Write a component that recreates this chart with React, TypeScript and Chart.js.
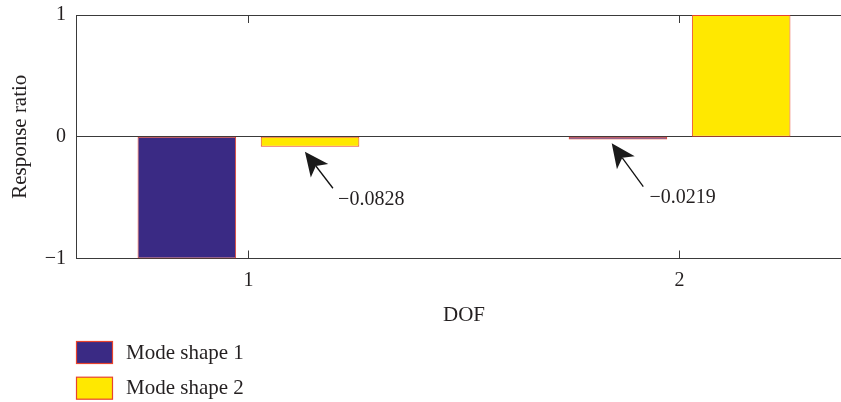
import React, { useEffect, useRef } from "react";
import { Chart, registerables } from "chart.js";

Chart.register(...registerables);

// ---- data ----
const dofValues = [1, 2];
const xTickLabels = ["1", "2"];
const seriesLabels = ["Mode shape 1", "Mode shape 2"];
const mode1Values = [-1, -0.0219];
const mode2Values = [-0.0828, 1];
const yTickValues = [-1, 0, 1];
const yTickLabels = ["−1", "0", "1"];
const calloutValues = [-0.0828, -0.0219];

// ---- style ----
const FONT_FAMILY = "'Liberation Serif', 'Times New Roman', serif";
const TEXT_COLOR = "#231f20";
const AXIS_COLOR = "#3a3a3a";
const COLOR_1 = "#3a2a84";
const COLOR_2 = "#ffe800";
const BORDER_RED = "#e8432d";
const NUM_SIZE = 20;
const WORD_SIZE = 21;

// callout geometry (data coordinates)
const calloutGeom = [
  { tip: [1.131, -0.123], tail: [1.196, -0.423], label: [1.208, -0.52] },
  { tip: [1.8426, -0.054], tail: [1.9159, -0.41], label: [1.93, -0.497] },
];

const fmt = (v: number) => (v < 0 ? "−" : "") + Math.abs(v).toFixed(4);

const framePlugin = {
  id: "frame",
  beforeDatasetsDraw(chart: any) {
    const { ctx, chartArea: a, scales } = chart;
    const x = scales.x;
    const y = scales.y;
    const px = (v: number) => Math.floor(v) + 0.5;
    ctx.save();
    ctx.strokeStyle = AXIS_COLOR;
    ctx.lineWidth = 1;
    ctx.beginPath();
    const top = px(a.top);
    const bottom = px(a.bottom);
    const left = px(a.left);
    const zero = px(y.getPixelForValue(0));
    ctx.moveTo(a.left, top);
    ctx.lineTo(a.right, top);
    ctx.moveTo(a.left, bottom);
    ctx.lineTo(a.right, bottom);
    ctx.moveTo(left, a.top);
    ctx.lineTo(left, a.bottom);
    ctx.moveTo(a.left, zero);
    ctx.lineTo(a.right, zero);
    yTickValues.forEach((v) => {
      const yy = px(y.getPixelForValue(v));
      ctx.moveTo(a.left, yy);
      ctx.lineTo(a.left + 9, yy);
    });
    dofValues.forEach((v) => {
      const xx = px(x.getPixelForValue(v));
      ctx.moveTo(xx, a.top);
      ctx.lineTo(xx, a.top + 8);
      ctx.moveTo(xx, a.bottom);
      ctx.lineTo(xx, a.bottom - 8);
    });
    ctx.stroke();
    ctx.restore();
  },
  afterDatasetsDraw(chart: any) {
    const { ctx, scales } = chart;
    const x = scales.x;
    const y = scales.y;
    ctx.save();
    calloutValues.forEach((val, i) => {
      const g = calloutGeom[i];
      const tx = x.getPixelForValue(g.tip[0]);
      const ty = y.getPixelForValue(g.tip[1]);
      const sx = x.getPixelForValue(g.tail[0]);
      const sy = y.getPixelForValue(g.tail[1]);
      const dx = sx - tx;
      const dy = sy - ty;
      const len = Math.hypot(dx, dy);
      const ux = dx / len;
      const uy = dy / len;
      const nx = -uy;
      const ny = ux;
      const headLen = 24;
      const halfW = 11;
      const notch = 18;
      ctx.strokeStyle = "#111";
      ctx.lineWidth = 1.3;
      ctx.beginPath();
      ctx.moveTo(tx + ux * notch, ty + uy * notch);
      ctx.lineTo(sx, sy);
      ctx.stroke();
      ctx.fillStyle = "#1a1a1a";
      ctx.beginPath();
      ctx.moveTo(tx, ty);
      ctx.lineTo(tx + ux * headLen + nx * halfW, ty + uy * headLen + ny * halfW);
      ctx.lineTo(tx + ux * notch, ty + uy * notch);
      ctx.lineTo(tx + ux * headLen - nx * halfW, ty + uy * headLen - ny * halfW);
      ctx.closePath();
      ctx.fill();
      ctx.fillStyle = TEXT_COLOR;
      ctx.font = `${NUM_SIZE}px ${FONT_FAMILY}`;
      ctx.textAlign = "left";
      ctx.textBaseline = "middle";
      ctx.fillText(fmt(val), x.getPixelForValue(g.label[0]), y.getPixelForValue(g.label[1]));
    });
    ctx.restore();
  },
  afterDraw(chart: any) {
    const { ctx } = chart;
    ctx.save();
    chart.data.datasets.forEach((ds: any, i: number) => {
      const bx = 76.5;
      const by = 341.5 + i * 35.7;
      ctx.fillStyle = ds.backgroundColor;
      ctx.fillRect(bx, by, 36, 22);
      ctx.strokeStyle = BORDER_RED;
      ctx.lineWidth = 1.2;
      ctx.strokeRect(bx, by, 36, 22);
      ctx.fillStyle = TEXT_COLOR;
      ctx.font = `${WORD_SIZE}px ${FONT_FAMILY}`;
      ctx.textAlign = "left";
      ctx.textBaseline = "middle";
      ctx.fillText(ds.label, 126, by + 11.5);
    });
    ctx.restore();
  },
};

export default function App() {
  const canvasRef = useRef<HTMLCanvasElement | null>(null);

  useEffect(() => {
    const canvas = canvasRef.current;
    if (!canvas) return;
    const numFont = { family: FONT_FAMILY, size: NUM_SIZE };
    const wordFont = { family: FONT_FAMILY, size: WORD_SIZE };
    const chart = new Chart(canvas, {
      type: "bar",
      data: {
        datasets: [
          {
            label: seriesLabels[0],
            data: mode1Values.map((v, i) => ({ x: dofValues[i], y: v })),
            backgroundColor: COLOR_1,
            borderColor: BORDER_RED,
            borderWidth: 1,
            borderSkipped: false,
            barPercentage: 0.8,
            categoryPercentage: 0.5716,
          },
          {
            label: seriesLabels[1],
            data: mode2Values.map((v, i) => ({ x: dofValues[i], y: v })),
            backgroundColor: COLOR_2,
            borderColor: BORDER_RED,
            borderWidth: 1,
            borderSkipped: false,
            barPercentage: 0.8,
            categoryPercentage: 0.5716,
          },
        ],
      } as any,
      options: {
        responsive: false,
        animation: false,
        layout: { padding: { top: 15, right: 8, bottom: 68.5, left: 0 } },
        plugins: { legend: { display: false }, tooltip: { enabled: false } },
        scales: {
          x: {
            type: "linear",
            min: 0.6,
            max: 2.4,
            offset: false,
            grid: { display: false, drawTicks: false, offset: false },
            border: { display: false },
            afterBuildTicks: (s: any) => {
              s.ticks = dofValues.map((v) => ({ value: v }));
            },
            afterFit: (s: any) => {
              s.height = 75;
              s.paddingLeft = 0;
              s.paddingRight = 0;
            },
            ticks: {
              font: numFont,
              color: TEXT_COLOR,
              padding: 10,
              maxRotation: 0,
              autoSkip: false,
              callback: (v: any) => {
                const i = dofValues.indexOf(Number(v));
                return i >= 0 ? xTickLabels[i] : "";
              },
            },
            title: {
              display: true,
              text: "DOF",
              font: wordFont,
              color: TEXT_COLOR,
              padding: { top: 0, bottom: 5 },
            },
          },
          y: {
            type: "linear",
            min: -1,
            max: 1,
            grid: { display: false, drawTicks: false },
            border: { display: false },
            afterBuildTicks: (s: any) => {
              s.ticks = yTickValues.map((v) => ({ value: v }));
            },
            afterFit: (s: any) => {
              s.width = 76;
              s.paddingTop = 0;
              s.paddingBottom = 0;
            },
            ticks: {
              font: numFont,
              color: TEXT_COLOR,
              padding: 10,
              callback: (v: any) => {
                const i = yTickValues.indexOf(Number(v));
                return i >= 0 ? yTickLabels[i] : "";
              },
            },
            title: {
              display: true,
              text: "Response ratio",
              font: wordFont,
              color: TEXT_COLOR,
              padding: { top: 8, bottom: 0 },
            },
          },
        },
      } as any,
      plugins: [framePlugin],
    });
    return () => chart.destroy();
  }, []);

  return (
    <div
      style={{
        position: "fixed",
        left: 0,
        top: 0,
        width: 841,
        height: 402,
        overflow: "hidden",
        background: "#fff",
      }}
    >
      <canvas
        ref={canvasRef}
        width={860}
        height={402}
        style={{ width: 860, height: 402, display: "block" }}
      />
    </div>
  );
}
